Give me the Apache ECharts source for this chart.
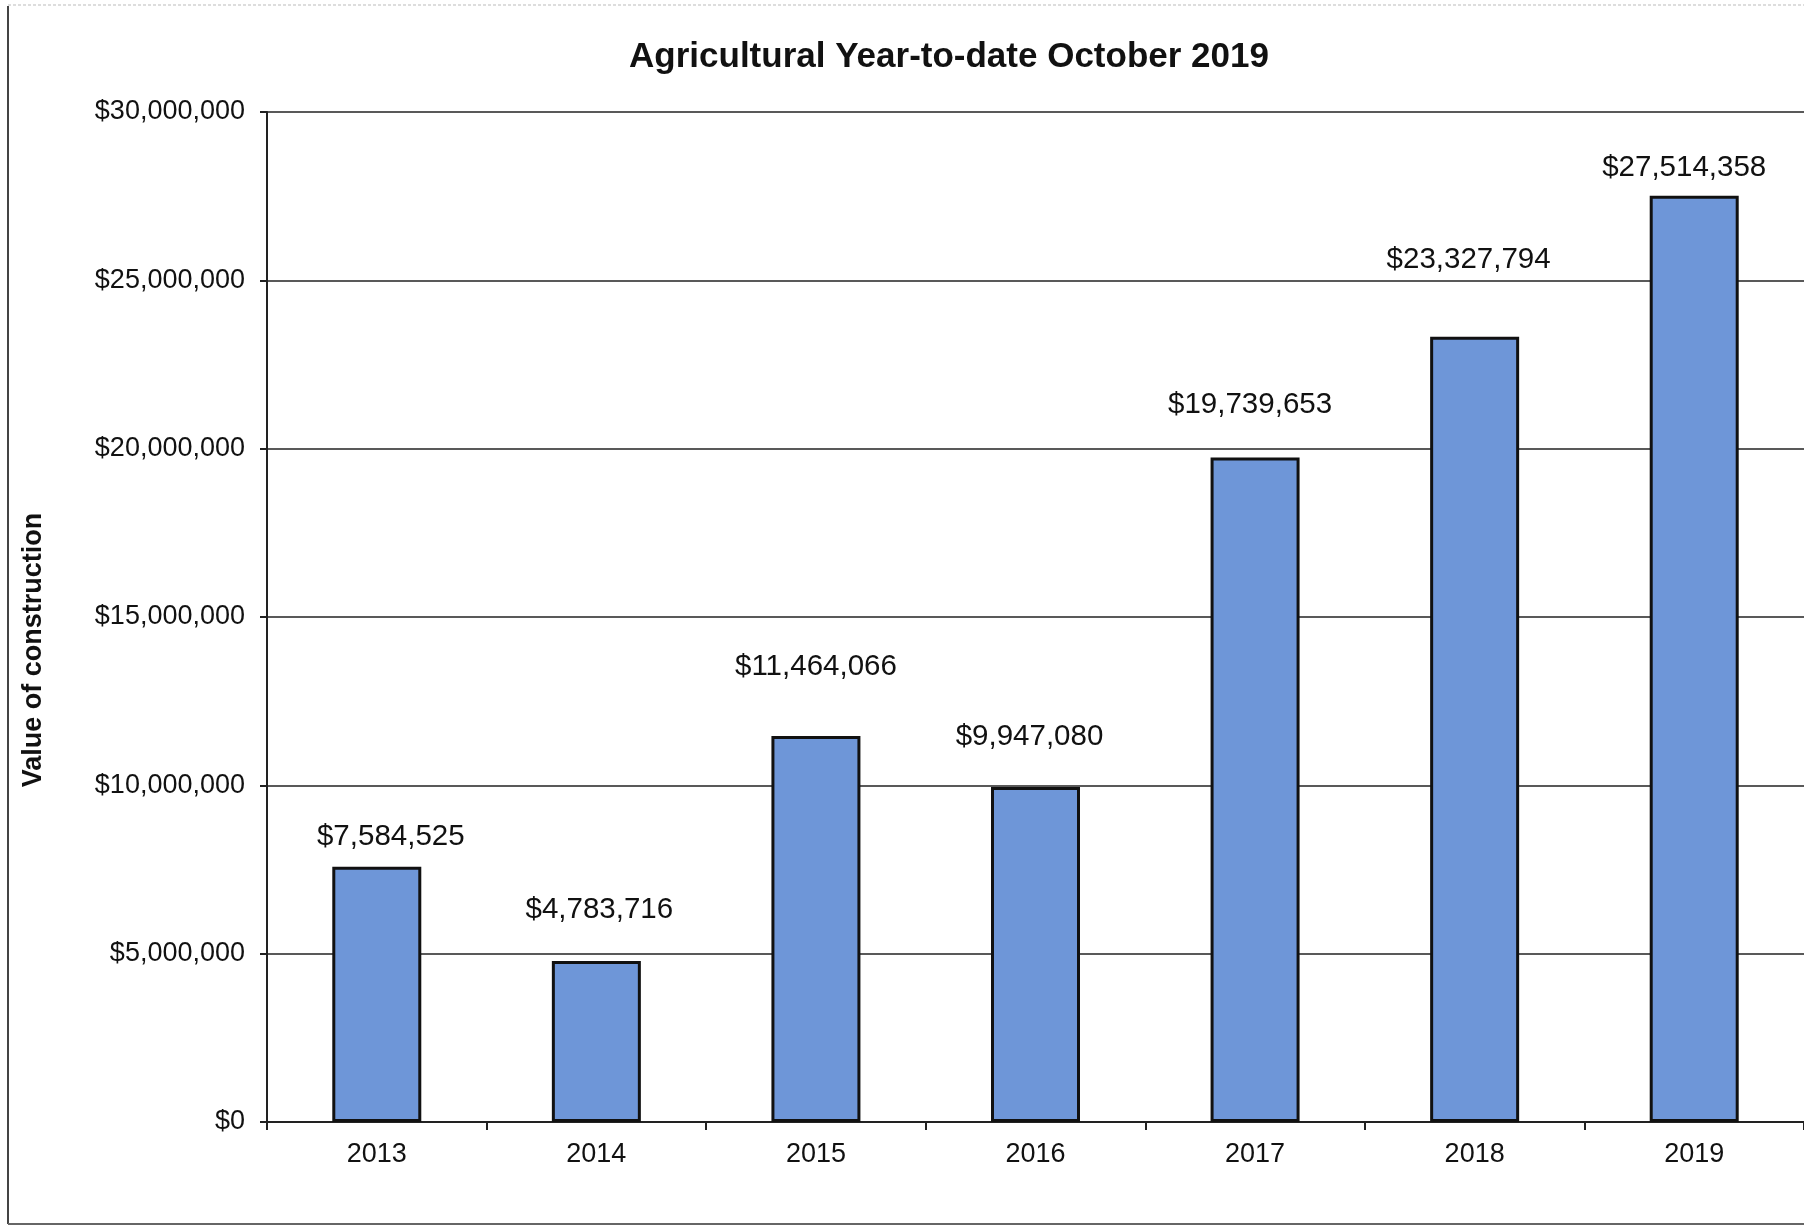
<!DOCTYPE html>
<html>
<head>
<meta charset="utf-8">
<style>html,body{margin:0;padding:0;background:#fff;}#c{width:1804px;height:1227px;}</style>
<script src="https://cdn.jsdelivr.net/npm/echarts@6/dist/echarts.min.js"></script>
</head>
<body>
<div id="c"></div>
<script>
const categories = ['2013', '2014', '2015', '2016', '2017', '2018', '2019'];
const values = [7584525, 4783716, 11464066, 9947080, 19739653, 23327794, 27514358];
const yTicks = [0, 5000000, 10000000, 15000000, 20000000, 25000000, 30000000];

// label placement (style only)
const labelLift = [15, 36, 54, 35, 38, 62, 13];
const labelShift = [14, 3, 0, -6, -5, -6, -10];

const FONT = '"Liberation Sans", Arial, sans-serif';
const money = v => '$' + Math.round(v).toString().replace(/\B(?=(\d{3})+(?!\d))/g, ',');

const chart = echarts.init(document.getElementById('c'), null, {renderer: 'canvas'});
chart.setOption({
  backgroundColor: '#ffffff',
  animation: false,
  title: {
    text: 'Agricultural Year-to-date October 2019',
    left: 944, top: 35, textAlign: 'center',
    textStyle: {fontFamily: FONT, fontSize: 35, fontWeight: 'bold', color: '#111'}
  },
  grid: {left: 267, top: 112, right: 0, bottom: 105},
  xAxis: {
    type: 'category', data: categories,
    axisLine: {lineStyle: {color: '#222', width: 2}},
    axisTick: {show: true, length: 8, lineStyle: {color: '#222', width: 2}},
    axisLabel: {fontFamily: FONT, fontSize: 27, color: '#111', margin: 19}
  },
  yAxis: {
    type: 'value', min: yTicks[0], max: yTicks[yTicks.length - 1], interval: 5000000,
    axisLine: {show: true, lineStyle: {color: '#222', width: 2}},
    axisTick: {show: true, length: 7, lineStyle: {color: '#222', width: 2}},
    axisLabel: {fontFamily: FONT, fontSize: 27, color: '#111', margin: 22, formatter: money},
    splitLine: {lineStyle: {color: '#222', width: 1.5}}
  },
  graphic: [
    {type: 'text', x: 34, y: 650, rotation: Math.PI / 2,
     style: {text: 'Value of construction', font: 'bold 27px ' + FONT, fill: '#111', textAlign: 'center', textVerticalAlign: 'middle'}},
    {type: 'line', shape: {x1: 8, y1: 6, x2: 8, y2: 1224}, style: {stroke: '#444', lineWidth: 2}},
    {type: 'line', shape: {x1: 8, y1: 1224, x2: 1804, y2: 1224}, style: {stroke: '#666', lineWidth: 2}},
    {type: 'line', shape: {x1: 8, y1: 5, x2: 1804, y2: 5}, style: {stroke: '#bbb', lineWidth: 1, lineDash: [3, 2]}}
  ],
  series: [{
    type: 'bar',
    barWidth: 89,
    data: values.map((v, i) => ({
      value: v,
      label: {offset: [labelShift[i], -labelLift[i]]}
    })),
    itemStyle: {color: '#6e96d8', borderColor: '#111', borderWidth: 3},
    label: {
      show: true, position: 'top', distance: 0,
      fontFamily: FONT, fontSize: 29.5, color: '#111',
      formatter: p => money(p.value)
    }
  }]
});
</script>
</body>
</html>
